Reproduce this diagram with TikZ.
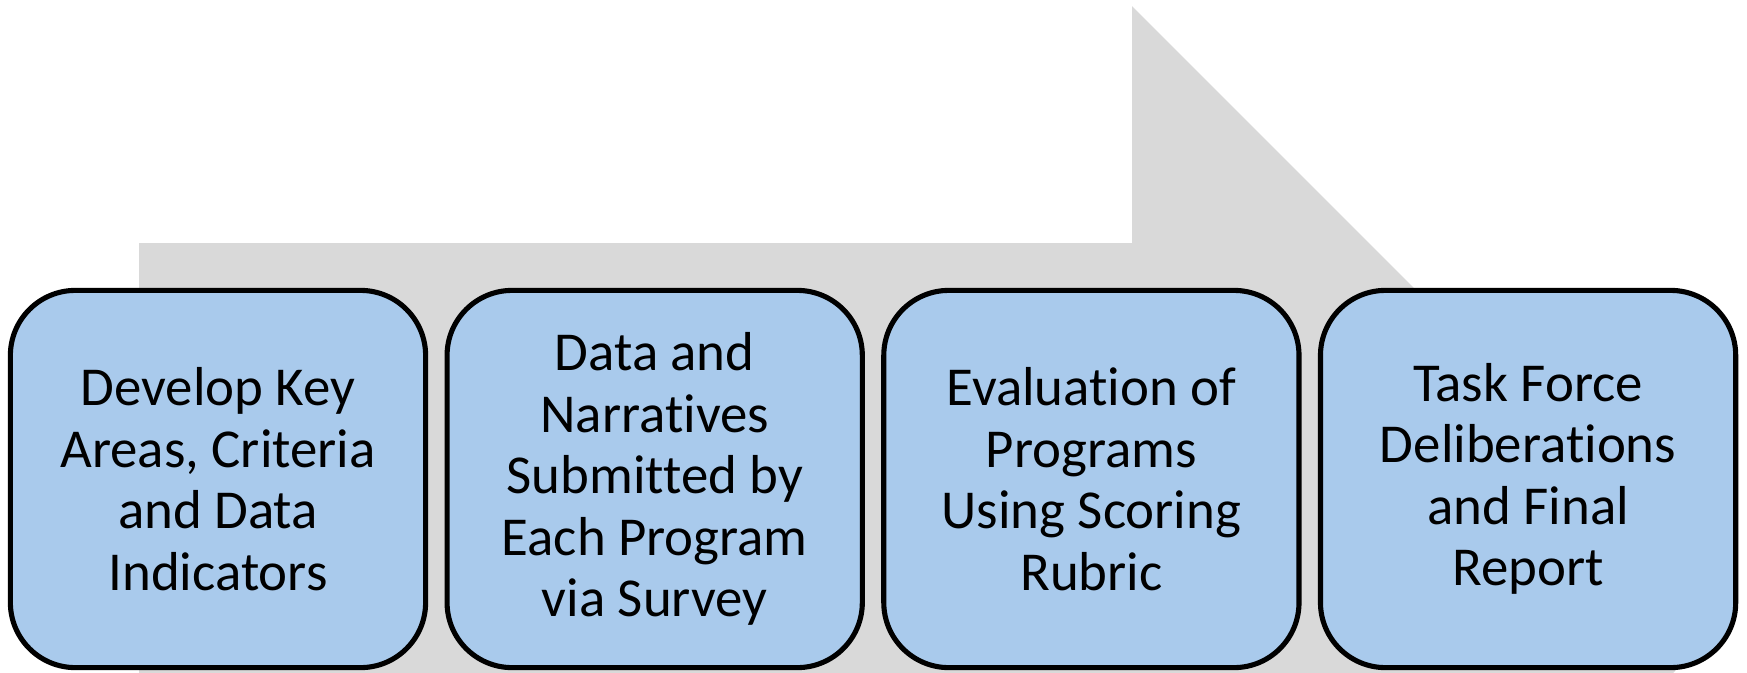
\documentclass[tikz,border=0pt]{standalone}
\usepackage{fontspec}
\setmainfont[Ligatures=NoCommon]{Carlito}
\definecolor{boxblue}{HTML}{A9CAEC}
\definecolor{arrowgray}{HTML}{D9D9D9}
\newcommand\tsplit{t\kern0pt i}% keeps t and i apart
\begin{document}
\begin{tikzpicture}[x=.01cm, y=-.01cm]
      \tikzset{
  stagebox/.style={
    rectangle,
    rounded corners=.65cm,
    draw=black,
    line width=1.45pt,
    fill=boxblue,
    minimum width=4.15cm,
    minimum height=3.77cm,
    align=center,
    font=\fontsize{15.6pt}{17.5pt}\selectfont
  },
  backarrow/.style={
    fill=arrowgray,
    draw=none
  }
}

\useasboundingbox (0,0) rectangle (1747,672);
\clip (0,0) rectangle (1747,672);

% big gray arrow behind the stages
\path [backarrow] (139,243) -- (1132,243) -- (1132,6) -- (1736,610)
  -- (1132,1214) -- (1132,977) -- (139,977) -- cycle;

\foreach \t [count=\i] in {{Develop Key\\Areas, Criteria\\and Data\\Indicators},
    {Data and\\Narra\tsplit ves\\Submitted by\\Each Program\\via Survey},
    {Evalua\tsplit on of\\Programs\\Using Scoring\\Rubric},
    {Task Force\\Delibera\tsplit ons\\and Final\\Report}}
  \node [stagebox] (stage-\i) at (218+436.7*\i-436.7,479) {\t};

\end{tikzpicture}
\end{document}
